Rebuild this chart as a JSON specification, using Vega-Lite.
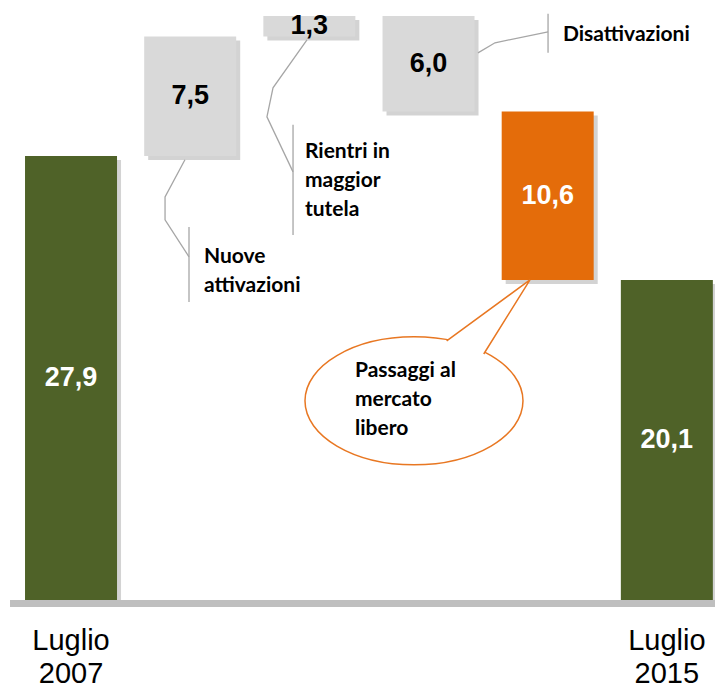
{
  "$schema": "https://vega.github.io/schema/vega-lite/v6.json",
  "width": 715,
  "height": 690,
  "autosize": {"type": "none"},
  "padding": 0,
  "background": "white",
  "config": {"view": {"stroke": null}, "axis": {"disable": true}, "scale": {"continuousPadding": 0}},
  "datasets": {
    "bars": [
      {"step": 0, "cat": "Luglio 2007", "kind": "totale", "start": 0, "end": 27.9, "label": "27,9", "axisLabel": ["Luglio", "2007"]},
      {"step": 1, "cat": "Nuove attivazioni", "kind": "variazione", "start": 27.9, "end": 35.4, "label": "7,5"},
      {"step": 2, "cat": "Rientri in maggior tutela", "kind": "variazione", "start": 35.4, "end": 36.7, "label": "1,3"},
      {"step": 3, "cat": "Disattivazioni", "kind": "variazione", "start": 36.7, "end": 30.7, "label": "6,0"},
      {"step": 4, "cat": "Passaggi al mercato libero", "kind": "passaggi", "start": 30.7, "end": 20.1, "label": "10,6"},
      {"step": 5, "cat": "Luglio 2015", "kind": "totale", "start": 0, "end": 20.1, "label": "20,1", "axisLabel": ["Luglio", "2015"]}
    ],
    "callouts": [
      {"id": "nuove", "seq": 0, "x": 0.956, "y": 27.66},
      {"id": "nuove", "seq": 1, "x": 0.789, "y": 25.33},
      {"id": "nuove", "seq": 2, "x": 0.789, "y": 23.88},
      {"id": "nuove", "seq": 3, "x": 0.990, "y": 21.56},
      {"id": "rientri", "seq": 0, "x": 1.980, "y": 35.20},
      {"id": "rientri", "seq": 1, "x": 1.695, "y": 32.18},
      {"id": "rientri", "seq": 2, "x": 1.644, "y": 30.36},
      {"id": "rientri", "seq": 3, "x": 1.863, "y": 26.90},
      {"id": "disatt", "seq": 0, "x": 3.415, "y": 34.38},
      {"id": "disatt", "seq": 1, "x": 3.558, "y": 35.01},
      {"id": "disatt", "seq": 2, "x": 4.003, "y": 35.70}
    ],
    "markers": [
      {"id": "nuove", "x": 0.990, "y": 23.44, "y2": 18.73},
      {"id": "rientri", "x": 1.863, "y": 29.86, "y2": 22.94},
      {"id": "disatt", "x": 4.003, "y": 36.83, "y2": 34.38}
    ],
    "notes": [
      {"x": 1.116, "y": 21.18, "text": ["Nuove", "attivazioni"]},
      {"x": 1.963, "y": 27.78, "text": ["Rientri in", "maggior", "tutela"]},
      {"x": 4.128, "y": 35.13, "text": ["Disattivazioni"]}
    ],
    "bubble": [
      {"x": 2.878, "y": 12.51, "tx": 2.383, "ty": 14.02, "text": ["Passaggi al", "mercato", "libero"]}
    ]
  },
  "layer": [
    {
      "data": {"name": "bars"},
      "mark": {"type": "bar", "size": 92, "color": "#808080", "opacity": 0.35, "xOffset": 4, "x2Offset": 4, "yOffset": 4, "y2Offset": 4},
      "encoding": {
        "x": {"field": "step", "type": "quantitative", "scale": {"domain": [-0.596, 5.404], "nice": false, "zero": false, "padding": 0}},
        "y": {"field": "start", "type": "quantitative", "scale": {"domain": [-5.66, 37.7], "nice": false, "zero": false, "padding": 0}},
        "y2": {"field": "end"}
      }
    },
    {
      "data": {"name": "bars"},
      "mark": {"type": "bar", "size": 92},
      "encoding": {
        "x": {"field": "step", "type": "quantitative", "scale": {"domain": [-0.596, 5.404], "nice": false, "zero": false, "padding": 0}},
        "y": {"field": "start", "type": "quantitative", "scale": {"domain": [-5.66, 37.7], "nice": false, "zero": false, "padding": 0}},
        "y2": {"field": "end"},
        "color": {"field": "kind", "type": "nominal", "scale": {"domain": ["totale", "variazione", "passaggi"], "range": ["#4F6228", "#D9D9D9", "#E46C0A"]}, "legend": null}
      }
    },
    {
      "data": {"name": "bars"},
      "transform": [{"calculate": "(datum.start + datum.end) / 2", "as": "mid"}],
      "mark": {"type": "text", "font": "Liberation Sans", "fontWeight": "bold", "fontSize": 27, "baseline": "middle", "align": "center"},
      "encoding": {
        "x": {"field": "step", "type": "quantitative", "scale": {"domain": [-0.596, 5.404], "nice": false, "zero": false, "padding": 0}},
        "y": {"field": "mid", "type": "quantitative", "scale": {"domain": [-5.66, 37.7], "nice": false, "zero": false, "padding": 0}},
        "text": {"field": "label"},
        "color": {"condition": {"test": "datum.kind === 'variazione'", "value": "#000000"}, "value": "#FFFFFF"}
      }
    },
    {
      "data": {"values": [{}]},
      "mark": {"type": "rule", "color": "#BFBFBF", "strokeWidth": 7, "yOffset": 3.5},
      "encoding": {
        "x": {"datum": -0.512, "type": "quantitative", "scale": {"domain": [-0.596, 5.404], "nice": false, "zero": false, "padding": 0}},
        "x2": {"datum": 5.404},
        "y": {"datum": 0, "type": "quantitative", "scale": {"domain": [-5.66, 37.7], "nice": false, "zero": false, "padding": 0}}
      }
    },
    {
      "data": {"name": "bars"},
      "transform": [{"filter": "datum.kind === 'totale'"}],
      "mark": {"type": "text", "font": "Liberation Sans", "fontSize": 29, "baseline": "alphabetic", "align": "center", "lineHeight": 33, "color": "#000000"},
      "encoding": {
        "x": {"field": "step", "type": "quantitative", "scale": {"domain": [-0.596, 5.404], "nice": false, "zero": false, "padding": 0}},
        "y": {"datum": -3.14, "type": "quantitative", "scale": {"domain": [-5.66, 37.7], "nice": false, "zero": false, "padding": 0}},
        "text": {"field": "axisLabel"}
      }
    },
    {
      "data": {"name": "callouts"},
      "mark": {"type": "line", "color": "#A6A6A6", "strokeWidth": 1.3},
      "encoding": {
        "x": {"field": "x", "type": "quantitative", "scale": {"domain": [-0.596, 5.404], "nice": false, "zero": false, "padding": 0}},
        "y": {"field": "y", "type": "quantitative", "scale": {"domain": [-5.66, 37.7], "nice": false, "zero": false, "padding": 0}},
        "detail": {"field": "id"},
        "order": {"field": "seq"}
      }
    },
    {
      "data": {"name": "markers"},
      "mark": {"type": "rule", "color": "#A6A6A6", "strokeWidth": 1.3},
      "encoding": {
        "x": {"field": "x", "type": "quantitative", "scale": {"domain": [-0.596, 5.404], "nice": false, "zero": false, "padding": 0}},
        "y": {"field": "y", "type": "quantitative", "scale": {"domain": [-5.66, 37.7], "nice": false, "zero": false, "padding": 0}},
        "y2": {"field": "y2"}
      }
    },
    {
      "data": {"name": "notes"},
      "mark": {"type": "text", "font": "Lato", "fontWeight": "bold", "fontSize": 21, "align": "left", "baseline": "alphabetic", "lineHeight": 29, "color": "#000000"},
      "encoding": {
        "x": {"field": "x", "type": "quantitative", "scale": {"domain": [-0.596, 5.404], "nice": false, "zero": false, "padding": 0}},
        "y": {"field": "y", "type": "quantitative", "scale": {"domain": [-5.66, 37.7], "nice": false, "zero": false, "padding": 0}},
        "text": {"field": "text"}
      }
    },
    {
      "data": {"name": "bubble"},
      "mark": {"type": "point", "shape": "M 1 0 C 1 0.3242 0.5523 0.587 0 0.587 C -0.5523 0.587 -1 0.3242 -1 0 C -1 -0.3242 -0.5523 -0.587 0 -0.587 C 0.5523 -0.587 1 -0.3242 1 0 Z", "size": 47524, "filled": true, "fill": "#FFFFFF", "stroke": "#E87722", "strokeWidth": 1.5, "opacity": 1},
      "encoding": {
        "x": {"field": "x", "type": "quantitative", "scale": {"domain": [-0.596, 5.404], "nice": false, "zero": false, "padding": 0}},
        "y": {"field": "y", "type": "quantitative", "scale": {"domain": [-5.66, 37.7], "nice": false, "zero": false, "padding": 0}}
      }
    },
    {
      "data": {"name": "bubble"},
      "mark": {"type": "point", "shape": "M 0.30 -0.55 L 1.064 -1.11 L 0.64 -0.43", "size": 47524, "filled": true, "fill": "#FFFFFF", "stroke": "#E87722", "strokeWidth": 1.5, "opacity": 1},
      "encoding": {
        "x": {"field": "x", "type": "quantitative", "scale": {"domain": [-0.596, 5.404], "nice": false, "zero": false, "padding": 0}},
        "y": {"field": "y", "type": "quantitative", "scale": {"domain": [-5.66, 37.7], "nice": false, "zero": false, "padding": 0}}
      }
    },
    {
      "data": {"name": "bubble"},
      "mark": {"type": "text", "font": "Lato", "fontWeight": "bold", "fontSize": 21, "align": "left", "baseline": "alphabetic", "lineHeight": 29, "color": "#000000"},
      "encoding": {
        "x": {"field": "tx", "type": "quantitative", "scale": {"domain": [-0.596, 5.404], "nice": false, "zero": false, "padding": 0}},
        "y": {"field": "ty", "type": "quantitative", "scale": {"domain": [-5.66, 37.7], "nice": false, "zero": false, "padding": 0}},
        "text": {"field": "text"}
      }
    }
  ]
}
